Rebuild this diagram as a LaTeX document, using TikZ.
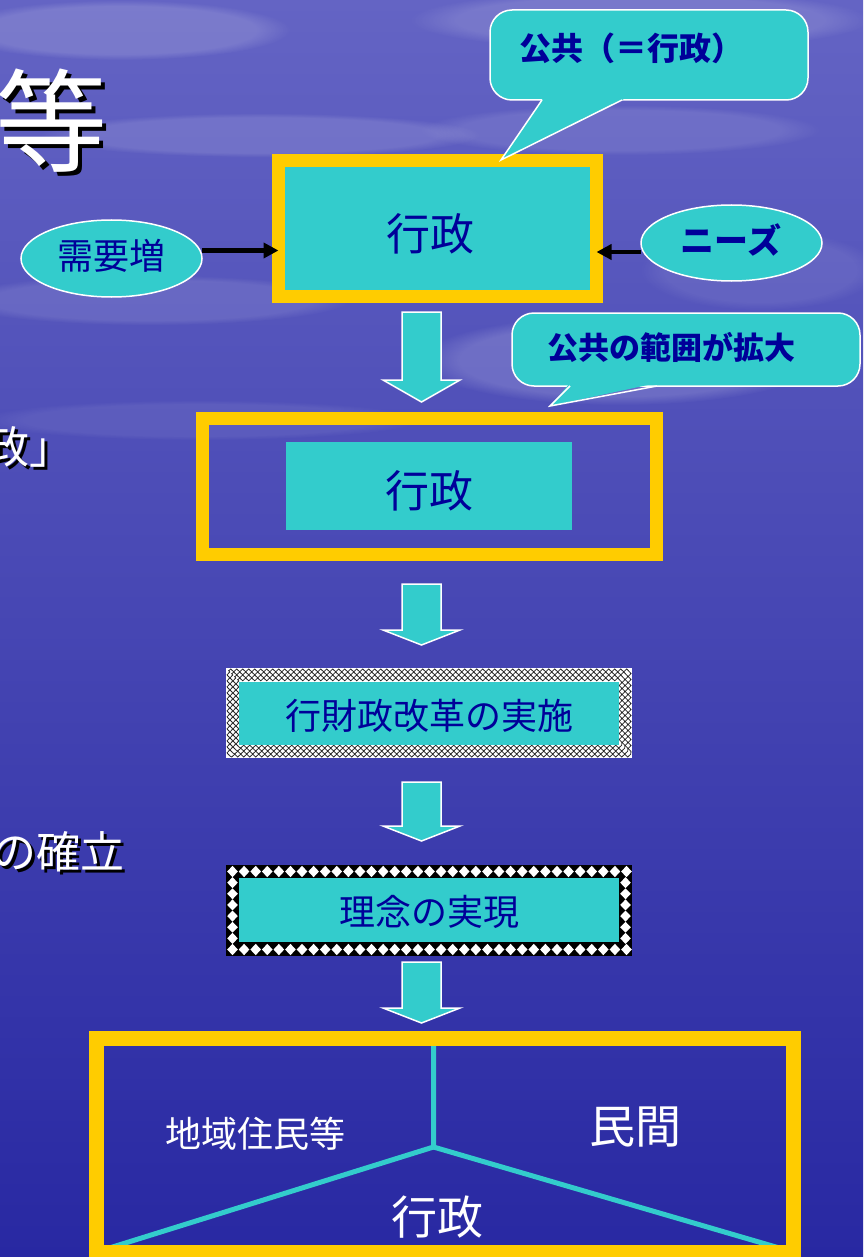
\documentclass[tikz,border=0pt]{standalone}
\usepackage{fontspec}
\setmainfont{Noto Sans CJK JP}
\usetikzlibrary{shapes.geometric,arrows.meta,decorations.pathmorphing,fadings}
\definecolor{tealc}{HTML}{33CCCC}
\definecolor{navyt}{HTML}{000099}
\definecolor{gold}{HTML}{FFCC00}
\definecolor{bgtop}{HTML}{6464C4}
\definecolor{bgmid}{HTML}{4242B2}
\definecolor{bgbot}{HTML}{2828A2}
\newcommand\bArrow[3]{\draw[barrow] (402,#1) -- (441,#1) -- (441,#2) -- (460,#2) -- (421.5,#3) -- (383,#2) -- (402,#2) -- cycle;}
\begin{document}
\begin{tikzpicture}[x=1pt,y=-1pt,
  goldframe/.style={draw=gold, line width=13pt, outer sep=0pt, inner sep=0pt},
  cyanbox/.style={fill=tealc, inner sep=0pt, outer sep=0pt},
  ntext/.style={font=\fontsize{#1}{#1}\selectfont, text=navyt, inner sep=0pt},
  btext/.style={font=\fontsize{#1}{#1}\selectfont\bfseries, text=navyt, inner sep=0pt},
  wtext/.style={font=\fontsize{#1}{#1}\selectfont, text=white, inner sep=0pt},
  ktext/.style={font=\fontsize{#1}{#1}\selectfont, text=black, inner sep=0pt},
  bubble/.style={fill=tealc, draw=white, line width=1.5pt, rounded corners=22pt, inner sep=0pt, outer sep=0pt},
  oval/.style={ellipse, fill=tealc, draw=white, line width=1.5pt, inner sep=0pt, outer sep=0pt},
  conn/.style={line width=4pt, draw=black, -{Triangle[length=15pt,width=15pt]}},
  barrow/.style={fill=tealc, draw=white, line width=1.5pt, line join=miter},
  zigline/.style={draw=black!85, line width=0.8pt, decorate, decoration={zigzag, segment length=6pt, amplitude=1.4pt}},
  cyanline/.style={draw=tealc, line width=5pt},
  cloud/.style={fill=white, opacity=#1, path fading=circle with fuzzy edge 20 percent},
]
\useasboundingbox (0,0) rectangle (863,1257);
\clip (0,0) rectangle (863,1257);
% background
\shade[top color=bgtop, middle color=bgmid, bottom color=bgbot] (0,0) rectangle (863,1257);
\fill[cloud=0.15] (120,30) ellipse (170 and 30);
\fill[cloud=0.13] (260,135) ellipse (220 and 22);
\fill[cloud=0.11] (150,300) ellipse (200 and 25);
\fill[cloud=0.16] (620,360) ellipse (200 and 45);
\fill[cloud=0.13] (640,20) ellipse (230 and 30);
\fill[cloud=0.10] (620,130) ellipse (200 and 25);
\fill[cloud=0.08] (760,270) ellipse (120 and 40);
\fill[cloud=0.07] (200,420) ellipse (220 and 20);

% title fragment and left texts
\node[ktext=112] (tshadow) at (55,125) {等};
\node[wtext=112] (title) at (51,121) {等};
\node[ktext=44, anchor=east] (l1s) at (77,450) {政」};
\node[wtext=44, anchor=east] (l1) at (74,447) {政」};
\node[ktext=44, anchor=east] (l2s) at (128,855) {の確立};
\node[wtext=44, anchor=east] (l2) at (125,852) {の確立};

% box 1
\node[goldframe, fill=tealc, minimum width=318pt, minimum height=136pt] (g1) at (437.5,228.5) {};
\node[ntext=44] (g1t) at (430,234) {行政};

% ellipses and connectors
\node[oval, minimum width=181pt, minimum height=77pt] (need) at (111.5,258.5) {};
\node[ntext=36] (needt) at (111.5,256) {需要増};
\node[oval, minimum width=181pt, minimum height=76pt] (nz) at (731.5,243) {};
\node[btext=34] (nzt) at (731,240) {ニーズ};
\draw[conn] ([yshift=8pt]need.east) -- ([yshift=8pt]need.east -| g1.west);
\draw[conn] ([yshift=-9pt]nz.west) -- ([yshift=-9pt]nz.west -| g1.east);

% callout 1
\node[bubble, minimum width=318pt, minimum height=90pt] (c1) at (649,55) {};
\fill[tealc] (544,97) -- (501,160) -- (628,97) -- cycle;
\draw[white, line width=1.5pt, line join=miter] (542,100) -- (501,160) -- (622,100);
\node[btext=32] (c1t) at (631,48) {公共（＝行政）};

% arrow 1
\bArrow{312}{380}{402}

% box 2
\node[goldframe, minimum width=454pt, minimum height=136pt] (g2) at (429.5,486) {};
\node[cyanbox, minimum width=286pt, minimum height=88pt] (g2in) at (429,486) {};
\node[ntext=44] (g2t) at (429,491) {行政};

% callout 2
\node[bubble, minimum width=348pt, minimum height=73pt] (c2) at (686,349.5) {};
\fill[tealc] (570,383) -- (550,406) -- (657,383) -- cycle;
\draw[white, line width=1.5pt, line join=miter] (570,386) -- (550,406) -- (657,386);
\node[btext=31] (c2t) at (671,347) {公共の範囲が拡大};

% arrow 2
\bArrow{584}{630}{645}

% zigzag box
\node[fill=white, inner sep=0pt, outer sep=0pt, minimum width=406pt, minimum height=90pt] (zz) at (429,713) {};
\foreach \i in {2.4,5.4,8.4,11.4}
  \draw[zigline] ([xshift=\i pt,yshift=-\i pt]zz.north west) rectangle ([xshift=-\i pt,yshift=\i pt]zz.south east);
\node[cyanbox, minimum width=380pt, minimum height=63pt] (k3) at (429,713.5) {};
\node[ntext=36] (k3t) at (429,716) {行財政改革の実施};

% arrow 3
\bArrow{782}{826}{841}

% diamond box
\node[fill=black, inner sep=0pt, outer sep=0pt, minimum width=406pt, minimum height=91pt] (db) at (429,910.5) {};
\foreach \i in {0,...,34} {
  \pgfmathsetmacro\xx{232.5+\i*11.588}
  \fill[white] ({\xx-5.3},871.5) -- (\xx,865.8) -- ({\xx+5.3},871.5) -- (\xx,877.2) -- cycle;
  \fill[white] ({\xx-5.3},949.5) -- (\xx,943.8) -- ({\xx+5.3},949.5) -- (\xx,955.2) -- cycle;
}
\foreach \j in {1,...,6} {
  \pgfmathsetmacro\yy{871.5+\j*11.143}
  \fill[white] (227.2,\yy) -- (232.5,{\yy-5.5}) -- (237.8,\yy) -- (232.5,{\yy+5.5}) -- cycle;
  \fill[white] (620.2,\yy) -- (625.5,{\yy-5.5}) -- (630.8,\yy) -- (625.5,{\yy+5.5}) -- cycle;
}
\node[cyanbox, minimum width=380pt, minimum height=64pt] (k4) at (429,910) {};
\node[ntext=36] (k4t) at (429,912) {理念の実現};

% arrow 4
\bArrow{962}{1008}{1023}

% bottom box
\coordinate (mid) at (433.5,1147);
\node[inner sep=0pt, outer sep=0pt, minimum width=696.5pt, minimum height=214pt] (bf) at (444.75,1145) {};
\draw[cyanline] (mid |- bf.north) -- (mid) -- (bf.south west);
\draw[cyanline] (mid) -- (bf.south east);
\node[goldframe, line width=15pt, minimum width=696.5pt, minimum height=214pt] (bfr) at (444.75,1145) {};
\node[wtext=36] (b1) at (255,1134) {地域住民等};
\node[wtext=46] (b2) at (635,1127) {民間};
\node[wtext=46] (b3) at (437,1217) {行政};
\end{tikzpicture}
\end{document}
